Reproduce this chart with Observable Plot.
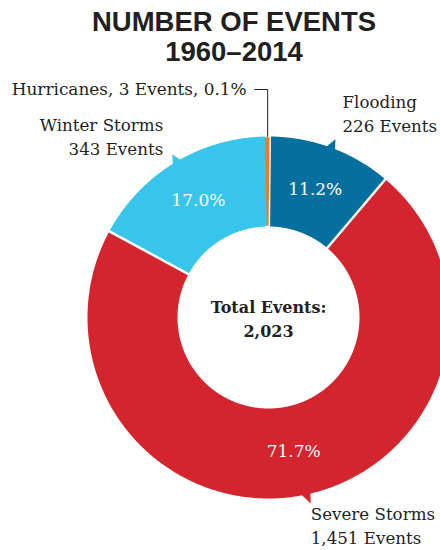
<!DOCTYPE html>
<html><head><meta charset="utf-8">
<script src="https://cdn.jsdelivr.net/npm/d3@7"></script>
<script src="https://cdn.jsdelivr.net/npm/@observablehq/plot@0.6"></script>
<style>
body{margin:0;background:#fff;}
#title{height:70px;box-sizing:border-box;padding-top:7px;padding-left:28px;width:440px;text-align:center;font:bold 27.5px/30px "Liberation Sans",Arial,sans-serif;color:#231f20;}
#chart svg{display:block;}
</style></head><body>
<div id="title">NUMBER OF EVENTS<br>1960–2014</div>
<div id="chart"></div>
<script>
// ---- data ----
const categories = ["Flooding", "Severe Storms", "Winter Storms", "Hurricanes"];
const events = [226, 1451, 343, 3];
const percents = ["11.2%", "71.7%", "17.0%", "0.1%"];
const colors = ["#05709f", "#d4242e", "#38c5ec", "#f27a21"];
const centerLabel = "Total Events:";

// ---- layout ----
const W = 440, H = 480, cx = 268, cy = 247, r0 = 91, r1 = 181;
const serif = "DejaVu Serif, Georgia, serif";
const ink = "#231f20";
const fmt = d3.format(",");

const rows = categories.map((c, i) => ({category: c, events: events[i], percent: percents[i], color: colors[i]}));
const total = d3.sum(events);
const arcs = d3.pie().sort(null).value(d => d.events)(rows);
const mid = a => (a.startAngle + a.endAngle) / 2;
const pt = (a, r) => ({x: cx + r * Math.sin(a), y: cy - r * Math.cos(a)});
function ring(a0, a1) {
  const n = Math.max(2, Math.ceil((a1 - a0) / 0.005));
  const o = [];
  for (let k = 0; k <= n; k++) o.push(pt(a0 + (a1 - a0) * k / n, r1));
  for (let k = n; k >= 0; k--) o.push(pt(a0 + (a1 - a0) * k / n, r0));
  return o;
}
const arcGen = d3.arc().innerRadius(r0).outerRadius(r1);

const marks = [];
// main slices
arcs.slice(0, 3).forEach(a => {
  marks.push(Plot.line(ring(a.startAngle, a.endAngle), {x: "x", y: "y", fill: a.data.color, stroke: "none"}));
});
// separators
[arcs[0].endAngle, arcs[1].endAngle].forEach(a => {
  const p0 = pt(a, r0 - 2), p1 = pt(a, r1 + 2);
  marks.push(Plot.link([{x1: p0.x, y1: p0.y, x2: p1.x, y2: p1.y}], {x1: "x1", y1: "y1", x2: "x2", y2: "y2", stroke: "white", strokeWidth: 2.5}));
});
// hurricane sliver (widened for visibility)
const hm = mid(arcs[3]);
marks.push(Plot.line(ring(hm - 0.014, hm + 0.014), {x: "x", y: "y", fill: arcs[3].data.color, stroke: "white", strokeWidth: 1.5}));

// pointers (callout tails)
const tipShift = [0.028, -0.049, -0.019];
const tailDir = [-1, 1, 1];
const tips = [];
arcs.slice(0, 3).forEach((a, i) => {
  const at = mid(a) + tipShift[i];
  const ao = at + tailDir[i] * 0.055;
  const bt = pt(at, r1 - 1.5), bo = pt(ao, r1 - 1.5);
  const base = pt(at, r1);
  const tip = {x: base.x, y: base.y + 10 * Math.sign(base.y - cy)};
  tips.push(tip);
  marks.push(Plot.line([bt, tip, bo], {x: "x", y: "y", fill: a.data.color, stroke: "none"}));
});

// percentages
const pctData = arcs.slice(0, 3).map(a => {
  const [dx, dy] = arcGen.centroid(a);
  return {x: cx + dx, y: cy + dy, t: a.data.percent};
});
marks.push(Plot.text(pctData, {x: "x", y: "y", text: "t", fill: "white", fontSize: 17, fontFamily: serif}));

// center
marks.push(Plot.text([{x: cx, y: cy + 19, t: `${centerLabel}\n${fmt(total)}`}], {
  x: "x", y: "y", text: "t", fill: ink, fontSize: 16, fontWeight: "bold", fontFamily: serif,
  lineAnchor: "bottom", lineHeight: 1.5
}));

// callout labels
const lh = 24 / 16.7;
const callouts = [
  {x: tips[0].x + 7, y: tips[0].y - 7, t: `${rows[0].category}\n${fmt(rows[0].events)} Events`, anchor: "start"},
  {x: tips[1].x, y: tips[1].y + 40, t: `${rows[1].category}\n${fmt(rows[1].events)} Events`, anchor: "start"},
  {x: tips[2].x - 9, y: tips[2].y + 1, t: `${rows[2].category}\n${fmt(rows[2].events)} Events`, anchor: "end"}
];
["start", "end"].forEach(anchor => {
  marks.push(Plot.text(callouts.filter(d => d.anchor === anchor), {
    x: "x", y: "y", text: "t", textAnchor: anchor, lineAnchor: "bottom", lineHeight: lh,
    fill: ink, fontSize: 16.7, fontFamily: serif
  }));
});

// hurricane leader + label
const ringTop = pt(hm, r1);
const leaderY = ringTop.y - 47;
marks.push(Plot.line([{x: ringTop.x - 13, y: leaderY}, {x: ringTop.x, y: leaderY}, {x: ringTop.x, y: ringTop.y}], {x: "x", y: "y", stroke: ink, strokeWidth: 1}));
marks.push(Plot.text([{x: ringTop.x - 21, y: leaderY + 5, t: `${rows[3].category}, ${fmt(rows[3].events)} Events, ${rows[3].percent}`}], {
  x: "x", y: "y", text: "t", textAnchor: "end", lineAnchor: "bottom", fill: ink, fontSize: 16.9, fontFamily: serif
}));

const chart = Plot.plot({
  width: W, height: H, margin: 0,
  x: {domain: [0, W], range: [0, W], axis: null},
  y: {domain: [0, H], range: [0, H], axis: null},
  style: {background: "white", overflow: "visible"},
  marks
});
document.getElementById("chart").appendChild(chart);
</script>
</body></html>
